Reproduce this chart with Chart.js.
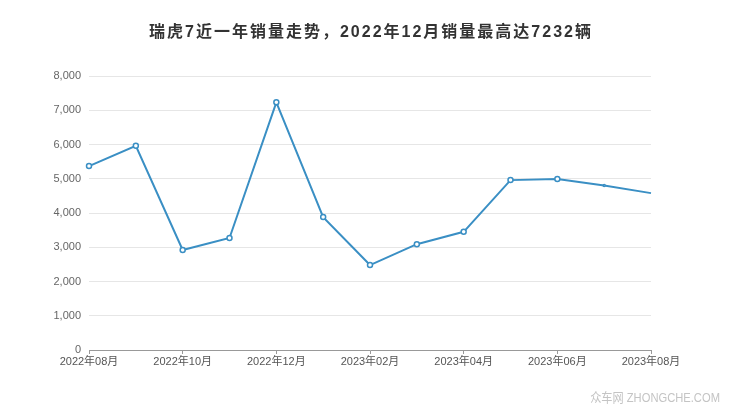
<!DOCTYPE html>
<html lang="zh">
<head>
  <meta charset="UTF-8" />
  <title>瑞虎7近一年销量走势</title>
  <script src="https://cdn.jsdelivr.net/npm/chart.js@4.4.0/dist/chart.umd.min.js"></script>
  <style>
    body { margin: 0; background: #fff; }
    .wrap { position: relative; width: 740px; height: 417px; }
    .mark {
      position: absolute; right: 20px; bottom: 11px;
      font-family: 'Liberation Sans', 'Noto Sans CJK SC', sans-serif;
      font-size: 13px; color: #c4c4c4;
      transform: scaleX(0.86); transform-origin: right center;
    }
  </style>
</head>
<body>
  <div class="wrap">
    <canvas id="c" width="740" height="417"></canvas>
    <div class="mark">众车网 ZHONGCHE.COM</div>
  </div>
  <script>
    const months = ['2022年08月', '2022年09月', '2022年10月', '2022年11月', '2022年12月', '2023年01月',
      '2023年02月', '2023年03月', '2023年04月', '2023年05月', '2023年06月', '2023年07月', '2023年08月'];
    const sales = [5370, 5960, 2920, 3270, 7232, 3880, 2480, 3090, 3450, 4960, 4990, 4800, 4580];
    const yTicks = [0, 1000, 2000, 3000, 4000, 5000, 6000, 7000, 8000];

    const font = "'Liberation Sans', 'Noto Sans CJK SC', sans-serif";

    new Chart(document.getElementById('c'), {
      type: 'line',
      data: {
        labels: months,
        datasets: [{
          data: sales,
          borderColor: '#3a8fc4',
          borderWidth: 2,
          backgroundColor: '#fff',
          pointBorderColor: '#3a8fc4',
          pointBorderWidth: 1.5,
          pointRadius: sales.map((v, i) => i === sales.length - 1 ? 0 : (i === sales.length - 2 ? 1 : 2.5)),
          tension: 0,
          fill: false
        }]
      },
      options: {
        responsive: false,
        animation: false,
        layout: { padding: { top: 76, right: 89, left: 0, bottom: 0 } },
        plugins: {
          legend: { display: false },
          tooltip: { enabled: false },
          title: { display: false }
        },
        scales: {
          x: {
            type: 'category',
            offset: false,
            afterFit: s => { s.height = 67; },
            border: { display: true, color: '#999', width: 1 },
            grid: {
              drawOnChartArea: false,
              drawTicks: true,
              tickLength: 4,
              color: ctx => (ctx.index % 2 === 0 ? '#999' : 'rgba(0,0,0,0)')
            },
            ticks: {
              autoSkip: false,
              maxRotation: 0,
              padding: 1,
              color: '#555',
              font: { family: font, size: 11 },
              callback: (v, i) => (i % 2 === 0 ? months[i] : '')
            }
          },
          y: {
            min: 0,
            max: 8000,
            afterFit: s => { s.width = 89; },
            afterBuildTicks: s => { s.ticks = yTicks.map(v => ({ value: v })); },
            border: { display: false },
            grid: { color: '#e6e6e6', drawTicks: false },
            ticks: {
              padding: 8,
              color: '#666',
              font: { family: font, size: 11 },
              callback: v => v.toLocaleString('en-US')
            }
          }
        }
      },
      plugins: [{
        id: 'titleText',
        afterDraw(chart) {
          const c = chart.ctx;
          c.save();
          c.font = "bold 16px " + font;
          c.letterSpacing = '2px';
          c.fillStyle = '#333';
          c.textAlign = 'center';
          c.textBaseline = 'middle';
          c.fillText('瑞虎7近一年销量走势，2022年12月销量最高达7232辆', 371, 33);
          c.restore();
        }
      }]
    });
  </script>
</body>
</html>
